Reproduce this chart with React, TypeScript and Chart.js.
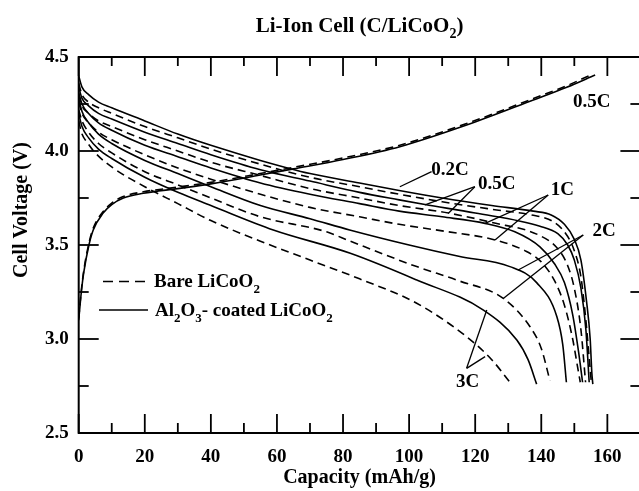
import React, { useEffect, useRef } from "react";
import { Chart, registerables } from "chart.js";

Chart.register(...registerables);

const SERIF = "'Liberation Serif', 'Times New Roman', serif";

// Axis ticks
const X_TICKS = [0, 20, 40, 60, 80, 100, 120, 140, 160];
const X_MINOR = [10, 30, 50, 70, 90, 110, 130, 150];
const Y_TICKS = [2.5, 3.0, 3.5, 4.0, 4.5];
const Y_MINOR = [2.75, 3.25, 3.75, 4.25];

// Discharge curves: capacity (mAh/g) and voltage (V)
const CAP_02_AL = [0, 1, 3, 6, 10, 20, 30, 40, 55, 70, 85, 97, 110, 125, 137.6, 143, 147, 150, 152, 153.7, 154.8, 155.3, 155.6];
const V_02_AL = [4.40, 4.34, 4.30, 4.26, 4.23, 4.16, 4.09, 4.03, 3.95, 3.88, 3.83, 3.79, 3.75, 3.71, 3.68, 3.66, 3.61, 3.53, 3.42, 3.20, 3.00, 2.82, 2.76];
const CAP_02_BARE = [0, 1, 3, 6, 10, 20, 30, 40, 55, 70, 85, 97, 110, 125, 137, 143, 147, 150, 152, 153.5, 154.5, 155.2];
const V_02_BARE = [4.36, 4.30, 4.26, 4.23, 4.20, 4.13, 4.07, 4.01, 3.93, 3.86, 3.81, 3.77, 3.73, 3.69, 3.66, 3.63, 3.57, 3.47, 3.33, 3.10, 2.90, 2.76];
const CAP_05_AL = [0, 1, 3, 6, 10, 20, 30, 40, 55, 70, 85, 97, 104.8, 120, 139.6, 145, 148, 150, 152, 153.5, 154.5];
const V_05_AL = [4.34, 4.28, 4.24, 4.20, 4.17, 4.10, 4.04, 3.98, 3.90, 3.84, 3.78, 3.74, 3.715, 3.67, 3.60, 3.56, 3.50, 3.42, 3.27, 3.05, 2.77];
const CAP_05_BARE = [0, 1, 3, 6, 10, 20, 30, 40, 55, 70, 85, 97, 111.9, 125, 139.6, 145, 148, 150, 152, 153.4];
const V_05_BARE = [4.30, 4.24, 4.20, 4.16, 4.13, 4.06, 4.00, 3.94, 3.87, 3.80, 3.75, 3.71, 3.67, 3.62, 3.55, 3.48, 3.39, 3.27, 3.05, 2.77];
const CAP_1_AL = [0, 1, 3, 6, 10, 20, 30, 40, 55, 70, 85, 97, 110, 123, 132, 139.6, 144, 147, 149.5, 151.3, 152.5];
const V_1_AL = [4.31, 4.25, 4.20, 4.15, 4.11, 4.03, 3.97, 3.91, 3.83, 3.77, 3.72, 3.68, 3.65, 3.615, 3.57, 3.49, 3.40, 3.30, 3.13, 2.93, 2.77];
const CAP_1_BARE = [0, 1, 3, 6, 10, 20, 30, 40, 55, 70, 85, 97, 110, 126, 135, 140, 144, 147, 149.5, 151, 151.8];
const V_1_BARE = [4.26, 4.20, 4.15, 4.10, 4.06, 3.98, 3.91, 3.85, 3.77, 3.70, 3.65, 3.61, 3.575, 3.527, 3.47, 3.41, 3.31, 3.18, 3.00, 2.85, 2.77];
const CAP_2_AL = [0, 1, 3, 6, 10, 20, 30, 40, 55, 70, 82, 100, 115, 130.5, 138.6, 144.7, 146.5, 147.6];
const V_2_AL = [4.28, 4.21, 4.15, 4.09, 4.04, 3.95, 3.88, 3.81, 3.71, 3.64, 3.58, 3.50, 3.44, 3.385, 3.30, 3.12, 2.97, 2.77];
const CAP_2_BARE = [0, 1, 3, 6, 10, 20, 30, 40, 55, 75, 82.2, 102.3, 115, 128.5, 136.6, 140, 142.6];
const V_2_BARE = [4.22, 4.16, 4.10, 4.04, 3.99, 3.89, 3.82, 3.75, 3.65, 3.57, 3.52, 3.385, 3.31, 3.216, 3.065, 2.95, 2.78];
const CAP_3_AL = [0, 1, 3, 6, 10, 20, 30, 40, 58.9, 82.2, 102.3, 122.5, 132.6, 136, 138.6];
const V_3_AL = [4.20, 4.13, 4.07, 4.01, 3.96, 3.86, 3.78, 3.71, 3.58, 3.456, 3.314, 3.154, 2.995, 2.89, 2.76];
const CAP_3_BARE = [0, 1, 2.4, 5, 10.4, 20, 30, 40, 55, 70, 85, 102.3, 117.4, 125, 130.5];
const V_3_BARE = [4.16, 4.09, 4.05, 3.99, 3.91, 3.81, 3.72, 3.63, 3.52, 3.42, 3.32, 3.19, 3.012, 2.89, 2.77];

// Charge curves (0.5C)
const CAP_CH_AL = [0, 0.8, 1.5, 3.1, 4.4, 7.4, 10, 13.5, 19.6, 30, 40, 54.9, 65, 80, 97.2, 117.4, 137.6, 147.7, 156.3];
const V_CH_AL = [3.10, 3.25, 3.35, 3.50, 3.58, 3.67, 3.715, 3.75, 3.775, 3.80, 3.825, 3.872, 3.905, 3.955, 4.023, 4.138, 4.271, 4.339, 4.404];
const CAP_CH_BARE = [0, 0.8, 1.5, 3.1, 4.4, 7.4, 10, 13.5, 19.6, 30, 40, 54.9, 65, 80, 97.2, 117.4, 137.6, 147.7, 155];
const V_CH_BARE = [3.11, 3.26, 3.36, 3.51, 3.59, 3.678, 3.723, 3.758, 3.783, 3.808, 3.833, 3.88, 3.913, 3.963, 4.031, 4.146, 4.279, 4.347, 4.405];

// Rate labels: text, anchor (cap, V), leader start and leader ends
const RATE_TEXT = ["0.5C", "0.2C", "0.5C", "1C", "2C", "3C"];
const RATE_AT = [[155.3, 4.262], [112.4, 3.899], [126.5, 3.824], [146.4, 3.79], [159, 3.572], [117.7, 2.769]];
const RATE_FROM = [null, [106.8, 3.89], [119.9, 3.81], [142.1, 3.766], [152.7, 3.553], [117.4, 2.844]];
const RATE_TO = [[], [[97.2, 3.81]], [[104.8, 3.713], [111.9, 3.669]], [[123, 3.615], [126, 3.527]], [[133, 3.367], [128.5, 3.216]], [[123.5, 3.154], [123, 2.906]]];

const CANVAS_W = 645;
const CANVAS_H = 491;

const pts = (c: number[], v: number[]) => c.map((x, i) => ({ x, y: v[i] }));

function drawRich(ctx: CanvasRenderingContext2D, parts: { t: string; sub?: boolean }[], x: number, y: number, size: number, align: "left" | "center") {
  const main = `bold ${size}px ${SERIF}`;
  const sub = `bold ${Math.round(size * 0.68)}px ${SERIF}`;
  const widths = parts.map((p) => {
    ctx.font = p.sub ? sub : main;
    return ctx.measureText(p.t).width;
  });
  const total = widths.reduce((a, b) => a + b, 0);
  let cx = align === "center" ? x - total / 2 : x;
  ctx.textAlign = "left";
  ctx.textBaseline = "alphabetic";
  parts.forEach((p, i) => {
    ctx.font = p.sub ? sub : main;
    ctx.fillText(p.t, cx, p.sub ? y + size * 0.3 : y);
    cx += widths[i];
  });
}

const overlayPlugin = {
  id: "overlay",
  afterDraw(chart: any) {
    const { ctx, chartArea: a, scales } = chart;
    const xs = scales.x;
    const ys = scales.y;
    ctx.save();
    ctx.strokeStyle = "#000";
    ctx.fillStyle = "#000";
    // frame
    ctx.lineWidth = 2;
    ctx.strokeRect(a.left, a.top, a.right - a.left, a.bottom - a.top);
    // inward ticks
    ctx.lineWidth = 1.8;
    const seg = (x1: number, y1: number, x2: number, y2: number) => {
      ctx.beginPath();
      ctx.moveTo(x1, y1);
      ctx.lineTo(x2, y2);
      ctx.stroke();
    };
    X_TICKS.forEach((v) => {
      const px = xs.getPixelForValue(v);
      seg(px, a.bottom, px, a.bottom - 19);
      seg(px, a.top, px, a.top + 19);
    });
    X_MINOR.forEach((v) => {
      const px = xs.getPixelForValue(v);
      seg(px, a.bottom, px, a.bottom - 10);
      seg(px, a.top, px, a.top + 9);
    });
    Y_TICKS.forEach((v) => {
      const py = ys.getPixelForValue(v);
      seg(a.left, py, a.left + 20, py);
      seg(a.right, py, a.right - 20, py);
    });
    Y_MINOR.forEach((v) => {
      const py = ys.getPixelForValue(v);
      seg(a.left, py, a.left + 10, py);
      seg(a.right, py, a.right - 10, py);
    });

    // rate labels and leaders
    ctx.lineWidth = 1.3;
    RATE_TEXT.forEach((t, i) => {
      const from = RATE_FROM[i];
      if (from) {
        RATE_TO[i].forEach((to) => {
          seg(xs.getPixelForValue(from[0]), ys.getPixelForValue(from[1]), xs.getPixelForValue(to[0]), ys.getPixelForValue(to[1]));
        });
      }
      ctx.font = `bold 19px ${SERIF}`;
      ctx.textAlign = "center";
      ctx.textBaseline = "middle";
      ctx.fillText(t, xs.getPixelForValue(RATE_AT[i][0]), ys.getPixelForValue(RATE_AT[i][1]));
    });

    // legend
    ctx.lineWidth = 1.6;
    ctx.setLineDash([10, 6]);
    seg(103, 281.5, 148, 281.5);
    ctx.setLineDash([]);
    seg(99, 310, 148, 310);
    drawRich(ctx, [{ t: "Bare LiCoO" }, { t: "2", sub: true }], 154, 287, 19, "left");
    drawRich(ctx, [{ t: "Al" }, { t: "2", sub: true }, { t: "O" }, { t: "3", sub: true }, { t: "- coated LiCoO" }, { t: "2", sub: true }], 155, 316, 19, "left");

    // title
    const cx = (a.left + a.right) / 2;
    drawRich(ctx, [{ t: "Li-Ion Cell (C/LiCoO" }, { t: "2", sub: true }, { t: ")" }], cx, 32, 21, "center");

    // axis titles
    ctx.font = `bold 20px ${SERIF}`;
    ctx.textAlign = "center";
    ctx.textBaseline = "middle";
    ctx.fillText("Capacity (mAh/g)", cx, 478);
    ctx.save();
    ctx.translate(22, 210);
    ctx.rotate(-Math.PI / 2);
    ctx.fillText("Cell Voltage (V)", 0, 0);
    ctx.restore();

    ctx.restore();
  },
};

export default function App() {
  const ref = useRef<HTMLCanvasElement | null>(null);

  useEffect(() => {
    if (!ref.current) return;
    const solid = (c: number[], v: number[]) => ({
      data: pts(c, v),
      borderColor: "#000",
      borderWidth: 1.6,
      pointRadius: 0,
      fill: false,
      cubicInterpolationMode: "monotone" as const,
    });
    const dashed = (c: number[], v: number[]) => ({ ...solid(c, v), borderDash: [8, 5] });

    const chart = new Chart(ref.current, {
      type: "line",
      data: {
        datasets: [
          solid(CAP_CH_AL, V_CH_AL),
          dashed(CAP_CH_BARE, V_CH_BARE),
          solid(CAP_02_AL, V_02_AL),
          dashed(CAP_02_BARE, V_02_BARE),
          solid(CAP_05_AL, V_05_AL),
          dashed(CAP_05_BARE, V_05_BARE),
          solid(CAP_1_AL, V_1_AL),
          dashed(CAP_1_BARE, V_1_BARE),
          solid(CAP_2_AL, V_2_AL),
          dashed(CAP_2_BARE, V_2_BARE),
          solid(CAP_3_AL, V_3_AL),
          dashed(CAP_3_BARE, V_3_BARE),
        ] as any,
      },
      options: {
        responsive: false,
        animation: false,
        devicePixelRatio: 1,
        layout: { padding: { left: 0, right: CANVAS_W - 640.4, top: 57, bottom: 0 } },
        plugins: {
          legend: { display: false },
          title: { display: false },
          tooltip: { enabled: false },
        },
        scales: {
          x: {
            type: "linear",
            min: 0,
            max: 170,
            grid: { display: false, drawTicks: false },
            border: { display: false },
            ticks: {
              autoSkip: false,
              maxRotation: 0,
              padding: 13,
              color: "#000",
              font: { family: SERIF, size: 19, weight: "bold" },
              callback: (v: any) => String(v),
            },
            afterBuildTicks: (s: any) => {
              s.ticks = X_TICKS.map((v) => ({ value: v }));
            },
            afterFit: (s: any) => {
              s.height = 58;
            },
          },
          y: {
            type: "linear",
            min: 2.5,
            max: 4.5,
            grid: { display: false, drawTicks: false },
            border: { display: false },
            ticks: {
              autoSkip: false,
              padding: 10,
              color: "#000",
              font: { family: SERIF, size: 19, weight: "bold" },
              callback: (v: any) => Number(v).toFixed(1),
            },
            afterBuildTicks: (s: any) => {
              s.ticks = Y_TICKS.map((v) => ({ value: v }));
            },
            afterFit: (s: any) => {
              s.width = 78.7;
            },
          },
        },
      } as any,
      plugins: [overlayPlugin],
    });
    return () => chart.destroy();
  }, []);

  return (
    <div style={{ position: "absolute", left: 0, top: 0, width: 639, height: 491, overflow: "hidden", background: "#fff" }}>
      <canvas ref={ref} width={CANVAS_W} height={CANVAS_H} style={{ display: "block", width: CANVAS_W, height: CANVAS_H }} />
    </div>
  );
}
